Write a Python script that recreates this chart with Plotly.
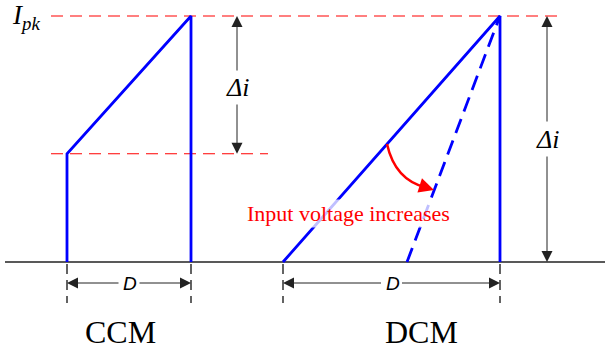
import plotly.graph_objects as go

# Inductor-current waveforms: continuous (CCM) vs discontinuous (DCM) conduction.
# Time axis in drawing units, current normalised to the peak value I_pk = 1.
I_PK = 1.0
I_VALLEY = 0.44

# CCM: current rises from the valley to the peak during D
ccm_t = [67, 67, 191, 191]
ccm_i = [0.0, I_VALLEY, I_PK, 0.0]

# DCM: current rises from zero to the peak during D
dcm_t = [283, 500, 500]
dcm_i = [0.0, I_PK, 0.0]

# DCM at a higher input voltage: steeper slope, shorter on-time
dcm_hi_t = [407, 500]
dcm_hi_i = [0.0, I_PK]

# Reference levels
ipk_t = [51, 562]
valley_t = [51, 268]
base_t = [5, 605]

# Duty-cycle spans (start, end) for the D dimension markers
d_spans = [(67, 191), (283, 500)]
# Delta-i arrows: (time, low, high)
di_marks = [(237, I_VALLEY, I_PK), (547, 0.0, I_PK)]

W, H = 605, 351
BASE_PX, PEAK_PX = 262, 16
scale = (BASE_PX - PEAK_PX) / I_PK


def px(p):
    """Convert a vertical pixel position to current units."""
    return (BASE_PX - p) / scale


BLUE = "#0000ff"
RED = "#ff0000"
INK = "#222222"
SERIF = "Liberation Serif, Times New Roman, serif"
SANS = "Liberation Sans, Arial, sans-serif"

fig = go.Figure()


def line(x, y, color, width, dash="solid"):
    fig.add_trace(go.Scatter(x=x, y=y, mode="lines", hoverinfo="skip",
                             showlegend=False,
                             line=dict(color=color, width=width, dash=dash)))


line(base_t, [0, 0], INK, 1.6)
line(ipk_t, [I_PK, I_PK], RED, 1.1, "12px,7px")
line(valley_t, [I_VALLEY, I_VALLEY], RED, 1.1, "12px,7px")

# D-span extension ticks below the axis
for a, b in d_spans:
    for t in (a, b):
        line([t, t], [px(264), px(303)], INK, 1.4, "10px,6px")

line(ccm_t, ccm_i, BLUE, 2.8)
line(dcm_t, dcm_i, BLUE, 2.8)
line(dcm_hi_t, dcm_hi_i, BLUE, 2.8, "15px,8px")

annotations = []


def arrow(x0, y0, x1, y1, color=INK, width=1.0, size=2.2):
    annotations.append(dict(x=x1, y=y1, ax=x0, ay=y0, xref="x", yref="y",
                            axref="x", ayref="y", text="", showarrow=True,
                            arrowhead=2, arrowsize=size, arrowwidth=width,
                            arrowcolor=color, standoff=0, startstandoff=0))


def label(x, y, text, size, family, color="black", bg=None):
    annotations.append(dict(x=x, y=y, xref="x", yref="y", text=text,
                            showarrow=False, xanchor="center", yanchor="middle",
                            font=dict(size=size, family=family, color=color),
                            bgcolor=bg, borderpad=1))


# D dimension lines
dim_y = px(283)
for a, b in d_spans:
    mid = (a + b) / 2
    arrow(mid - 9, dim_y, a, dim_y)
    arrow(mid + 9, dim_y, b, dim_y)
    label(mid + 1, dim_y, "<i>D</i>", 19, SANS)

# Delta-i dimension lines
gaps = [(px(103), px(72)), (px(155), px(123))]
for (t, lo, hi), (g0, g1) in zip(di_marks, gaps):
    arrow(t, g1, t, hi)
    arrow(t, g0, t, lo)
    label(t, (g0 + g1) / 2, "<i>\u0394i</i>", 26, SERIF)

label(26, px(17), "<i>I</i><sub><i>pk</i></sub>", 27, SERIF)
label(120, px(332), "CCM", 32, SERIF)
label(421, px(332), "DCM", 32, SERIF)
label(348, px(213), "Input voltage increases", 22, SERIF, RED,
      "rgba(255,255,255,0.75)")

# Curved red arrow showing the slope change
p0 = (387, px(144))
pc = (395, px(180))
p1 = (426, px(187.5))
fig.add_shape(type="path", xref="x", yref="y",
              path=f"M {p0[0]},{p0[1]} Q {pc[0]},{pc[1]} {p1[0]},{p1[1]}",
              line=dict(color=RED, width=2.5))
arrow(422, px(186.2), 434, px(190), color=RED, width=2.5, size=1.2)

fig.update_layout(
    width=W, height=H, autosize=False,
    margin=dict(l=0, r=0, t=0, b=0, pad=0),
    paper_bgcolor="white", plot_bgcolor="white",
    xaxis=dict(range=[0, W], visible=False, fixedrange=True),
    yaxis=dict(range=[px(H), px(0)], visible=False, fixedrange=True),
    annotations=annotations,
)

fig.write_html("out.html")
